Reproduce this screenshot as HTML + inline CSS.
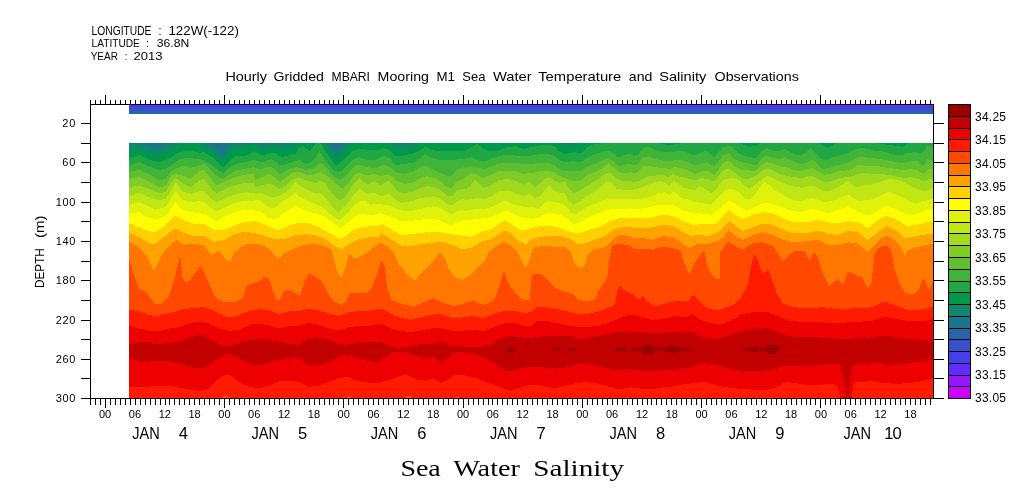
<!DOCTYPE html>
<html><head><meta charset="utf-8"><title>Sea Water Salinity</title>
<style>html,body{margin:0;padding:0;background:#fff}svg{display:block}text{font-family:"Liberation Sans",sans-serif;fill:#000}.s{font-family:"Liberation Serif",serif}</style></head><body>
<svg width="1009" height="504" viewBox="0 0 1009 504">
<rect width="1009" height="504" fill="#fff"/>
<g shape-rendering="crispEdges">
<rect x="129" y="105" width="804" height="1" fill="#622aff"/>
<rect x="129" y="106" width="804" height="2.4" fill="#443eec"/>
<rect x="129" y="108.4" width="804" height="2.7" fill="#3750cc"/>
<rect x="129" y="111.1" width="804" height="2.9" fill="#2962ac"/>
<rect x="757" y="105" width="120" height="2" fill="#9318ff"/>
<rect x="876" y="105" width="57" height="1" fill="#7724ff"/>
<rect x="555" y="105" width="135" height="1" fill="#7724ff"/>
<rect x="740" y="106" width="193" height="3.2" fill="#443eec"/>
<rect x="760" y="109.2" width="110" height="3.2" fill="#3750cc"/>
</g>
<defs><clipPath id="cp"><rect x="129" y="143" width="804" height="255"/></clipPath></defs>
<g clip-path="url(#cp)" shape-rendering="crispEdges">
<rect x="129" y="143" width="804" height="255" fill="#1b758c"/>
<polygon fill="#0e876c" points="129.0,144.8 139.0,141.5 149.0,146.5 157.3,148.2 167.3,144.0 177.3,139.0 184.0,134.2 199.0,134.2 202.3,140.7 212.3,145.7 219.0,151.5 223.2,154.5 227.3,148.2 232.3,141.5 242.3,141.5 252.3,138.2 255.0,137.3 260.0,140.7 265.0,144.0 270.0,140.7 274.2,139.0 278.3,141.1 283.3,144.0 288.3,141.5 291.7,140.7 295.8,140.2 296.7,130.0 321.7,130.0 324.2,137.3 327.5,141.5 330.8,145.7 335.0,151.1 338.3,150.2 342.0,146.5 347.0,139.8 350.3,134.2 352.3,129.0 388.3,129.0 390.3,134.2 393.7,139.8 397.0,141.5 407.0,140.7 413.7,139.8 418.7,134.2 420.7,129.0 484.7,129.0 486.7,134.2 491.7,137.8 497.5,134.2 499.5,129.0 556.3,129.0 558.3,134.2 563.3,138.5 571.7,139.0 580.0,137.8 583.3,134.2 585.3,129.0 932.0,129.0 933.0,129.0 935,400 127,400"/>
<polygon fill="#00994c" points="129.0,151.3 139.0,148.0 149.0,153.0 157.3,154.7 167.3,150.5 177.3,145.5 184.0,142.2 199.0,142.2 202.3,147.2 212.3,152.2 219.0,158.0 223.2,161.0 227.3,154.7 232.3,148.0 242.3,148.0 252.3,144.7 255.0,143.8 260.0,147.2 265.0,150.5 270.0,147.2 274.2,145.5 278.3,147.6 283.3,150.5 288.3,148.0 291.7,147.2 295.8,146.8 296.7,138.0 321.7,138.0 324.2,143.8 327.5,148.0 330.8,152.2 335.0,157.6 338.3,156.8 342.0,153.0 347.0,146.3 350.3,142.2 352.3,137.0 388.3,137.0 390.3,142.2 393.7,146.3 397.0,148.0 407.0,147.2 413.7,146.3 418.7,142.2 420.7,137.0 484.7,137.0 486.7,142.2 491.7,144.3 497.5,142.2 499.5,137.0 556.3,137.0 558.3,142.2 563.3,145.0 571.7,145.5 580.0,144.3 583.3,142.2 585.3,137.0 932.0,137.0 933.0,137.0 935,400 127,400"/>
<polygon fill="#20a643" points="129.0,158.8 139.0,154.7 149.0,159.7 159.0,162.2 169.0,158.8 177.3,153.0 184.0,151.3 192.3,150.5 199.0,153.0 204.0,152.2 212.3,157.2 219.0,163.8 223.2,167.2 229.0,161.3 235.7,156.3 245.7,155.5 252.3,152.2 255.0,151.3 259.2,153.8 264.2,155.9 267.5,153.8 271.7,152.6 275.8,153.4 279.2,156.3 283.3,156.8 288.3,155.5 292.5,154.2 295.8,153.8 297.5,150.5 300.0,146.8 303.3,146.3 306.7,148.8 309.2,150.9 312.5,148.0 315.0,144.2 316.7,142.2 320.8,142.2 321.7,144.7 325.0,150.5 328.3,155.5 331.7,160.5 335.8,165.5 338.3,164.2 342.0,161.3 347.0,156.3 352.0,151.3 358.7,148.8 367.0,149.7 375.3,150.5 383.7,148.0 390.3,150.5 395.3,156.3 403.7,155.5 413.7,153.0 420.3,150.5 425.3,146.3 430.3,149.7 438.7,151.3 447.0,151.0 455.3,150.5 463.7,150.5 465.0,150.5 473.3,146.3 476.7,143.8 481.7,147.2 488.3,150.5 498.3,150.5 506.7,147.2 515.0,146.3 523.3,148.8 531.7,147.2 540.0,145.5 548.3,144.7 555.0,146.3 558.3,150.5 565.0,153.8 573.3,152.2 581.7,153.0 586.7,148.0 591.7,144.7 598.3,143.8 606.7,143.0 611.7,142.2 613.7,137.0 656.0,137.0 658.0,142.2 663.0,144.3 671.3,145.0 678.0,143.8 681.3,142.2 683.3,137.0 736.0,137.0 738.0,142.2 743.0,144.7 749.7,146.7 756.3,145.5 761.3,142.2 763.3,137.0 815.7,137.0 817.7,142.2 822.7,145.5 827.7,147.7 832.7,145.5 836.8,142.2 838.8,137.0 870.7,137.0 872.7,142.2 881.0,144.3 889.3,144.7 897.7,146.0 902.7,146.7 907.7,143.8 910.2,142.2 933.0,142.2 935,400 127,400"/>
<polygon fill="#40b339" points="129.0,165.5 139.0,162.2 149.0,166.3 159.0,170.5 167.3,168.0 174.0,163.0 180.7,158.8 187.3,158.0 195.7,158.8 202.3,159.7 212.3,165.5 219.0,170.5 223.2,173.0 229.0,168.0 235.7,163.8 245.7,162.2 254.0,159.7 255.0,160.1 260.0,161.8 264.2,161.8 267.5,160.1 271.7,159.2 275.8,161.8 279.2,164.7 283.3,165.1 288.3,163.4 292.5,162.2 296.7,160.5 299.6,159.2 301.7,161.8 305.0,163.8 309.2,163.0 313.3,160.5 316.7,155.5 319.6,151.3 322.5,155.5 325.8,160.9 330.0,166.3 334.2,170.9 338.3,171.8 342.0,170.5 347.0,165.5 353.7,158.8 358.7,157.2 367.0,159.7 375.3,159.7 383.7,155.5 390.3,158.8 395.3,165.5 403.7,163.8 413.7,163.0 420.3,158.0 424.5,153.8 430.3,157.2 438.7,159.7 447.0,160.5 455.3,159.7 463.7,158.8 465.0,158.8 471.7,157.2 478.3,160.5 485.0,161.3 491.7,158.8 498.3,156.3 506.7,154.7 515.0,155.5 523.3,156.3 531.7,155.5 540.0,153.8 548.3,153.8 555.0,156.3 560.0,160.5 565.0,162.2 573.3,161.3 581.7,162.2 586.7,158.0 593.3,154.7 601.7,152.2 608.3,150.5 613.3,153.0 618.3,157.2 625.0,154.7 631.7,153.8 633.0,156.3 638.0,154.7 643.0,148.0 648.0,146.3 654.7,149.7 663.0,152.2 673.0,152.2 681.3,150.5 688.0,153.0 694.7,155.5 699.7,153.0 706.3,150.5 711.3,154.7 714.7,157.2 718.0,152.2 723.0,147.2 729.7,145.5 734.7,149.7 741.3,154.7 749.7,157.2 756.3,158.0 761.3,151.3 766.3,148.0 773.0,150.5 779.7,150.5 784.7,148.8 791.3,153.0 799.7,155.5 801.0,155.5 806.0,152.2 811.0,148.0 816.0,153.8 821.0,158.8 826.0,160.5 832.7,157.2 839.3,155.5 847.7,153.0 854.3,149.7 861.0,148.0 867.7,148.8 874.3,150.5 882.7,151.3 891.0,153.8 901.0,155.5 907.7,153.0 914.3,152.2 921.0,153.0 924.3,150.5 927.7,145.5 933.0,148.0 935,400 127,400"/>
<polygon fill="#60bf30" points="129.0,172.2 139.0,169.7 149.0,173.8 159.0,180.5 165.7,178.8 170.7,171.3 177.3,168.0 184.0,165.5 190.7,168.0 199.0,165.5 204.0,163.8 212.3,172.2 219.0,177.2 223.2,178.8 229.0,174.7 235.7,170.5 245.7,168.8 254.0,167.2 255.0,168.0 259.2,168.8 263.3,169.2 266.7,167.2 270.8,166.3 275.0,169.7 279.2,173.8 280.8,174.2 284.2,171.8 288.3,169.7 292.5,167.6 296.7,167.2 300.8,168.0 305.0,170.1 309.2,169.2 313.3,168.8 316.7,166.3 320.0,163.0 323.3,164.2 326.7,168.0 330.0,172.2 334.2,176.3 338.3,179.7 342.0,178.8 347.0,174.7 353.7,166.3 358.7,164.7 367.0,167.2 375.3,168.0 383.7,164.7 390.3,167.2 395.3,172.2 403.7,173.8 413.7,171.3 420.3,167.2 425.3,165.5 430.3,168.0 438.7,172.2 447.0,175.5 452.0,175.5 457.0,169.7 463.7,167.2 465.0,168.0 471.7,166.3 478.3,168.0 485.0,168.8 491.7,166.3 498.3,163.8 506.7,163.0 515.0,163.0 523.3,163.8 531.7,163.8 540.0,163.0 548.3,163.0 555.0,165.5 560.0,169.7 566.7,171.3 575.0,171.3 581.7,170.5 588.3,166.3 595.0,163.8 601.7,160.5 608.3,158.0 613.3,161.3 618.3,166.3 625.0,164.7 631.7,163.8 633.0,165.5 638.0,163.8 643.0,157.2 648.0,156.3 654.7,158.8 663.0,160.5 673.0,160.5 681.3,159.7 688.0,162.2 694.7,165.5 699.7,163.8 706.3,162.2 711.3,164.7 714.7,166.3 718.0,162.2 723.0,155.5 728.8,153.0 734.7,158.8 741.3,162.2 749.7,163.8 756.3,165.5 761.3,158.8 766.3,155.5 773.0,158.0 779.7,158.8 784.7,157.2 791.3,160.5 799.7,163.8 801.0,164.7 807.7,162.2 812.7,159.7 817.7,164.7 822.7,168.8 829.3,168.0 836.0,165.5 844.3,163.8 851.0,161.3 857.7,157.2 864.3,157.2 871.0,158.0 879.3,158.8 887.7,160.5 896.0,162.2 904.3,163.0 911.0,161.3 917.7,161.3 923.5,166.3 927.7,158.8 933.0,161.3 935,400 127,400"/>
<polygon fill="#80cc26" points="129.0,178.8 139.0,177.2 149.0,181.3 159.0,187.2 165.7,186.3 170.7,176.3 175.7,173.8 182.3,175.5 190.7,178.8 199.0,171.3 204.0,169.7 212.3,180.5 216.5,185.5 222.3,183.0 229.0,179.7 237.3,176.3 245.7,174.7 254.0,173.8 255.0,179.7 260.0,178.0 265.0,175.9 270.0,174.2 274.2,176.8 278.3,180.5 280.8,182.2 284.2,178.8 288.3,175.9 292.5,172.6 296.7,171.8 300.8,172.2 305.0,174.7 309.2,175.5 313.3,174.7 316.7,173.4 320.0,172.2 324.2,173.8 327.5,176.3 331.7,179.7 335.0,183.0 338.3,185.0 342.0,188.8 347.0,184.7 353.7,175.5 358.7,172.2 367.0,175.5 373.7,173.8 380.3,176.3 387.0,174.7 392.0,176.3 397.0,181.3 405.3,183.8 413.7,182.2 420.3,178.0 427.0,176.3 433.7,178.0 440.3,181.3 447.0,187.2 452.0,188.0 457.0,181.3 463.7,178.8 465.0,177.2 471.7,173.0 476.7,174.7 483.3,178.0 490.0,175.5 498.3,171.3 506.7,170.5 515.0,171.3 523.3,173.8 531.7,173.0 540.0,171.3 548.3,170.5 555.0,173.0 560.0,176.3 566.7,178.8 573.3,180.5 580.0,180.5 586.7,175.5 595.0,172.2 601.7,168.8 608.3,163.0 613.3,167.2 618.3,172.2 625.0,173.0 631.7,172.2 633.0,173.0 638.0,172.2 643.0,166.3 648.0,165.5 654.7,167.2 663.0,168.0 669.7,168.8 674.7,167.2 681.3,168.0 688.0,170.5 694.7,173.8 699.7,172.2 706.3,170.5 711.3,173.0 714.7,174.7 718.0,170.5 723.0,163.0 728.8,160.5 734.7,166.3 741.3,169.7 749.7,170.5 756.3,170.5 761.3,165.5 766.3,162.2 773.0,163.8 779.7,166.3 786.3,167.2 793.0,169.7 799.7,171.3 801.0,171.3 807.7,168.8 812.7,168.0 817.7,171.3 824.3,174.7 831.0,173.8 837.7,171.3 846.0,170.5 852.7,168.8 858.5,164.7 864.3,165.5 871.0,166.3 879.3,166.3 887.7,168.0 896.0,168.8 904.3,170.5 911.0,168.8 917.7,170.5 923.5,173.8 928.5,168.8 933.0,169.7 935,400 127,400"/>
<polygon fill="#a0d91d" points="129.0,187.2 139.0,185.5 149.0,188.8 159.0,193.0 165.7,192.2 170.7,183.0 175.7,178.0 182.3,183.0 190.7,187.2 199.0,180.5 204.0,178.8 212.3,189.7 216.5,193.0 222.3,190.5 229.0,187.2 237.3,184.7 245.7,183.0 254.0,183.0 255.0,187.1 260.0,185.8 265.8,184.2 270.0,183.3 275.0,186.2 279.2,188.8 283.3,187.5 288.3,183.3 291.7,180.0 296.7,177.5 301.7,178.8 306.7,180.4 313.3,182.3 315.8,183.3 319.2,181.5 321.7,181.2 325.0,182.9 328.3,188.3 333.3,195.0 338.3,200.0 340.3,200.5 347.0,194.7 353.7,183.8 359.5,178.0 367.0,184.7 374.5,181.3 380.3,185.5 388.7,180.5 393.7,186.3 398.7,192.2 405.3,193.0 413.7,191.3 420.3,188.0 427.0,186.3 433.7,187.2 440.3,189.7 447.0,195.5 452.0,196.3 457.0,190.5 463.7,188.8 465.0,189.7 470.0,186.3 475.0,179.7 480.0,184.7 484.2,188.0 490.0,185.5 498.3,180.5 506.7,178.8 515.0,180.5 523.3,184.7 529.2,182.2 535.0,187.2 540.0,183.0 545.0,178.8 550.0,177.2 555.0,181.3 560.0,183.0 565.0,181.3 568.3,188.0 573.3,193.0 578.3,191.3 585.0,187.2 591.7,183.0 598.3,178.8 605.0,173.8 610.0,172.2 615.0,178.0 621.7,180.5 631.7,180.5 633.0,182.2 639.7,180.5 644.7,178.0 649.7,175.5 656.3,175.5 663.0,174.7 668.8,177.2 673.0,173.8 678.0,176.3 683.0,177.2 689.7,178.8 696.3,180.5 701.3,178.0 706.3,178.8 713.0,181.3 716.3,179.7 721.3,172.2 726.3,168.8 731.3,169.7 736.3,173.8 743.0,178.8 749.7,178.8 756.3,175.5 763.0,170.5 768.0,168.8 774.7,171.3 781.3,174.7 788.0,176.3 794.7,177.2 799.7,178.0 801.0,178.8 807.7,176.3 812.7,175.5 817.7,178.8 824.3,182.2 831.0,181.3 837.7,178.8 846.0,177.2 852.7,176.3 858.5,173.8 864.3,173.0 871.0,173.8 879.3,173.8 887.7,174.7 896.0,176.3 904.3,178.0 911.0,177.2 917.7,178.8 924.3,181.3 929.3,178.8 933.0,178.8 935,400 127,400"/>
<polygon fill="#c0e613" points="129.0,196.3 139.0,193.0 149.0,197.2 159.0,200.5 165.7,198.8 170.7,191.3 175.7,182.2 182.3,191.3 190.7,193.8 199.0,191.3 204.0,191.3 212.3,199.7 216.5,202.2 222.3,199.7 229.0,196.3 237.3,193.8 245.7,192.2 254.0,193.0 255.0,193.8 260.0,193.3 265.8,195.0 270.0,196.7 275.0,196.7 280.0,195.8 285.0,192.5 290.0,188.3 293.3,184.2 295.4,182.1 298.3,184.6 303.3,187.9 308.3,190.4 313.3,192.5 316.7,193.8 319.2,192.9 321.7,194.2 325.0,197.5 328.3,201.7 333.3,208.3 338.3,213.3 340.3,209.7 347.0,204.7 353.7,194.7 359.5,188.8 367.0,193.8 375.3,193.0 382.0,196.3 388.7,193.0 393.7,198.0 400.3,203.0 407.0,202.2 413.7,200.5 420.3,198.0 427.0,197.2 433.7,196.3 440.3,198.8 447.0,203.8 452.0,205.5 457.0,201.3 463.7,198.8 465.0,200.5 471.7,198.8 478.3,198.0 485.0,198.8 491.7,196.3 500.0,190.5 508.3,190.5 515.0,193.0 523.3,196.3 529.2,193.8 535.0,198.0 540.0,196.3 545.0,189.7 549.2,185.5 553.3,190.5 560.0,193.0 565.0,193.0 568.3,200.5 573.3,204.7 580.0,201.3 586.7,196.3 593.3,192.2 600.0,187.2 606.7,181.3 611.7,183.0 616.7,188.8 623.3,189.7 631.7,189.7 633.0,189.7 639.7,188.0 646.3,185.5 653.0,183.0 659.7,181.3 664.7,182.2 668.8,185.5 673.8,180.5 678.0,183.8 683.0,187.2 689.7,188.8 694.7,190.5 699.7,186.3 704.7,188.8 711.3,193.0 716.3,189.7 721.3,181.3 726.3,178.8 733.0,178.0 739.7,180.5 744.7,186.3 749.7,188.8 756.3,183.8 763.0,178.8 768.0,175.5 774.7,178.8 781.3,182.2 788.0,184.7 794.7,186.7 799.7,187.2 801.0,188.0 807.7,186.3 812.7,185.5 817.7,188.0 824.3,191.3 831.0,190.5 837.7,187.2 844.3,183.0 848.5,181.0 852.7,185.5 856.0,187.2 862.7,185.5 871.0,184.7 879.3,182.2 886.0,179.7 892.7,178.8 899.3,180.5 906.0,183.0 912.7,187.2 919.3,189.7 924.3,191.3 929.3,189.7 933.0,188.8 935,400 127,400"/>
<polygon fill="#e0f209" points="129.0,204.7 139.0,202.2 149.0,206.3 155.7,209.7 165.7,207.2 170.7,199.7 175.7,190.5 182.3,199.7 190.7,202.2 199.0,201.3 204.0,202.2 212.3,208.8 216.5,211.3 222.3,208.8 229.0,205.5 237.3,202.2 245.7,200.5 254.0,201.3 255.0,199.6 260.0,200.4 263.3,203.3 268.3,207.1 274.2,208.3 278.3,205.8 281.7,201.7 286.7,199.2 291.7,196.2 295.4,192.9 298.3,195.8 303.3,198.8 308.3,201.2 313.3,203.3 318.3,205.0 321.7,206.7 325.0,209.2 328.3,212.5 333.3,216.7 338.3,220.0 340.3,219.7 347.0,213.8 353.7,205.5 359.5,201.3 364.5,200.5 370.3,204.7 377.0,203.8 383.7,204.7 390.3,205.5 397.0,208.8 403.7,211.3 413.7,210.5 420.3,208.8 427.0,207.2 433.7,206.3 440.3,208.0 447.0,212.2 452.0,214.7 457.0,211.3 463.7,209.7 465.0,211.3 471.7,209.7 478.3,208.8 485.0,208.8 491.7,207.2 500.0,203.0 505.0,200.5 511.7,203.8 518.3,205.5 526.7,207.2 533.3,207.2 538.3,208.8 543.3,203.8 548.3,201.3 555.0,202.2 561.7,203.8 566.7,207.2 571.7,213.0 575.0,214.7 581.7,210.5 588.3,206.3 595.0,203.8 601.7,200.5 608.3,198.8 615.0,198.8 623.3,198.8 631.7,198.8 633.0,199.7 639.7,198.8 646.3,198.0 653.0,195.5 659.7,193.0 664.7,192.2 668.8,195.5 673.8,191.3 678.0,194.7 683.0,198.8 689.7,199.7 694.7,202.2 703.0,203.0 711.3,204.7 716.3,199.7 721.3,193.8 726.3,189.7 733.0,188.8 739.7,193.0 744.7,198.8 749.7,199.7 756.3,193.0 761.3,185.5 764.7,182.2 769.7,185.5 776.3,191.3 783.0,194.7 789.7,198.8 796.3,200.5 799.7,201.0 801.0,201.3 807.7,198.8 812.7,198.0 817.7,199.7 824.3,202.2 831.0,201.3 837.7,198.8 844.3,196.3 848.5,194.7 852.7,198.0 857.7,200.5 864.3,200.5 871.0,199.7 879.3,196.3 886.0,193.0 889.3,191.7 896.0,194.7 902.7,198.0 909.3,201.3 916.0,203.8 922.7,201.3 929.3,199.7 933.0,198.8 935,400 127,400"/>
<polygon fill="#fffe00" points="129.0,213.8 139.0,212.2 145.7,216.3 155.7,219.7 165.7,216.3 170.7,209.7 175.7,202.2 182.3,209.7 190.7,212.2 199.0,213.0 205.7,214.7 212.3,218.8 216.5,221.3 222.3,218.0 229.0,214.7 237.3,211.3 245.7,209.7 254.0,210.5 255.0,210.8 260.0,211.2 263.3,214.2 268.3,217.5 273.3,219.0 278.3,217.9 281.7,214.2 286.7,211.2 291.7,208.3 295.4,205.0 298.3,207.5 303.3,209.6 308.3,211.2 313.3,212.9 318.3,214.2 321.7,215.4 325.0,217.1 328.3,219.6 331.7,221.7 338.3,226.7 340.3,228.0 347.0,223.0 353.7,217.2 360.3,213.8 367.0,214.7 373.7,214.7 380.3,213.0 387.0,215.5 393.7,218.0 400.3,221.3 407.0,221.3 413.7,220.5 420.3,219.7 427.0,218.8 433.7,218.8 440.3,220.5 447.0,223.8 452.0,225.5 457.0,222.2 463.7,219.7 465.0,220.5 471.7,219.7 478.3,218.8 485.0,218.0 491.7,217.2 498.3,213.8 505.0,210.5 511.7,213.0 518.3,216.3 525.0,218.0 531.7,218.8 538.3,218.0 543.3,214.7 548.3,213.0 555.0,213.8 561.7,215.5 566.7,218.8 571.7,223.0 575.0,224.7 581.7,221.3 588.3,218.0 595.0,214.7 601.7,212.2 608.3,209.7 615.0,208.8 623.3,208.8 631.7,208.3 633.0,208.8 639.7,208.8 646.3,208.0 653.0,206.3 659.7,204.7 666.3,204.7 673.0,205.5 678.0,207.2 683.0,210.5 689.7,212.2 696.3,213.0 703.0,213.8 711.3,214.7 716.3,211.3 723.0,205.5 729.7,200.5 734.7,203.8 741.3,208.0 748.0,210.5 754.7,207.2 761.3,203.8 768.0,203.0 774.7,204.7 781.3,207.2 788.0,209.7 794.7,211.3 799.7,212.2 801.0,212.2 807.7,209.7 814.3,208.8 821.0,211.3 827.7,213.0 834.3,211.3 841.0,208.8 847.7,207.2 854.3,209.7 861.0,213.0 867.7,215.5 874.3,213.0 881.0,208.8 886.8,205.5 892.7,208.0 899.3,211.3 906.0,213.8 912.7,215.5 919.3,213.0 926.0,210.5 933.0,208.8 935,400 127,400"/>
<polygon fill="#ffd100" points="129.0,223.0 139.0,227.2 149.0,231.0 154.0,232.5 164.0,226.0 175.2,215.5 184.0,220.5 194.0,224.0 204.0,223.5 214.0,230.5 224.0,229.8 234.0,225.5 244.0,222.2 254.0,221.0 264.0,224.0 274.0,229.2 279.0,230.0 289.0,225.5 299.0,222.5 309.0,223.5 319.0,226.8 329.0,233.0 340.2,239.2 346.5,235.5 354.0,229.2 364.0,226.8 379.0,225.5 381.0,224.2 391.0,229.2 401.0,235.0 411.0,234.2 421.0,233.0 431.0,231.8 441.0,232.5 451.0,234.2 461.0,235.5 471.0,236.8 481.0,231.8 491.0,229.2 498.5,224.2 504.8,220.5 511.0,224.2 521.0,230.5 528.5,229.2 536.0,226.8 546.0,225.5 556.0,226.8 566.0,230.5 574.8,233.5 581.0,232.5 591.0,229.2 601.0,226.8 611.0,220.5 621.0,218.0 631.0,217.5 633.0,218.0 643.0,218.5 653.0,217.2 663.0,214.8 673.0,216.0 683.0,221.0 693.0,224.8 705.5,224.0 715.5,223.5 723.0,216.0 729.2,209.8 735.5,214.8 743.0,219.0 753.0,214.8 763.0,212.2 773.0,213.5 783.0,218.5 793.0,222.2 808.0,222.2 818.0,219.8 828.0,222.2 838.0,223.5 848.0,221.0 858.0,222.2 868.0,228.0 873.0,223.5 883.0,217.2 887.0,216.0 897.0,219.8 907.0,226.0 917.0,224.8 927.0,222.2 933.0,221.5 935,400 127,400"/>
<polygon fill="#ffa300" points="129.0,232.5 139.0,236.8 149.0,243.0 154.0,244.2 164.0,236.8 175.2,228.0 184.0,233.0 194.0,236.0 204.0,235.5 214.0,241.8 224.0,240.0 234.0,234.2 244.0,231.8 254.0,233.0 264.0,235.5 274.0,239.2 284.0,239.2 294.0,235.5 304.0,234.2 314.0,235.0 324.0,238.0 334.0,245.5 341.5,249.2 349.0,244.2 359.0,239.2 369.0,237.5 379.0,236.8 381.0,233.0 391.0,239.2 401.0,245.5 411.0,246.0 421.0,244.2 431.0,243.0 441.0,241.8 451.0,244.2 461.0,249.2 471.0,248.0 481.0,241.8 491.0,239.2 498.5,234.2 504.8,230.5 511.0,233.5 519.8,241.8 526.0,244.2 531.0,239.2 541.0,236.8 551.0,236.0 561.0,236.0 571.0,239.2 578.5,244.2 586.0,243.0 596.0,239.2 606.0,235.5 613.5,229.2 621.0,227.5 631.0,226.8 633.0,228.0 643.0,228.5 653.0,227.2 663.0,224.8 673.0,226.0 683.0,232.2 690.5,236.0 698.0,234.8 708.0,236.0 718.0,232.2 723.0,227.2 729.2,221.0 735.5,226.0 743.0,231.0 753.0,227.2 763.0,223.5 773.0,224.8 783.0,229.8 793.0,233.5 808.0,233.0 818.0,230.5 828.0,234.0 838.0,234.8 848.0,231.0 858.0,232.2 868.0,240.5 873.0,236.0 883.0,228.5 887.0,226.0 897.0,231.0 904.5,238.5 912.0,237.2 922.0,234.8 933.0,233.5 935,400 127,400"/>
<polygon fill="#ff7600" points="129.0,242.2 139.0,247.2 146.5,256.0 154.0,271.5 161.5,256.0 166.5,248.5 176.5,239.8 184.0,244.8 194.0,243.5 204.0,245.5 211.5,254.8 215.2,253.5 219.0,250.5 225.2,258.5 230.2,262.2 234.0,252.2 244.0,244.8 254.0,243.5 264.0,246.0 271.5,251.0 277.8,259.0 284.0,253.5 294.0,248.5 304.0,244.8 314.0,244.0 324.0,246.0 331.5,249.8 336.5,268.5 341.0,278.5 345.2,268.5 349.0,253.5 354.0,259.0 364.0,254.8 374.0,247.2 379.0,243.5 381.0,243.0 388.5,247.2 393.5,252.2 398.5,263.5 406.0,273.5 414.8,280.5 421.0,273.5 431.0,263.5 439.8,252.5 444.8,258.0 448.5,268.5 454.8,277.2 462.2,279.8 471.0,274.8 479.8,266.0 486.0,259.8 488.5,252.2 493.5,248.5 503.5,241.8 511.0,245.5 517.2,251.0 521.0,259.8 526.0,268.5 529.8,259.8 532.2,250.5 536.0,246.8 546.0,246.0 556.0,246.8 566.0,247.5 571.0,252.2 574.8,263.5 581.0,268.5 584.8,264.8 587.2,254.8 593.5,249.2 603.5,248.0 611.0,241.8 616.0,236.8 621.0,235.0 631.0,236.0 633.0,238.5 643.0,238.0 653.0,239.8 663.0,236.0 673.0,237.2 683.0,243.5 689.2,248.0 698.0,243.5 708.0,243.5 718.0,241.0 723.0,237.2 729.2,230.5 735.5,236.0 743.0,239.8 753.0,234.8 763.0,232.2 773.0,234.8 783.0,239.8 793.0,242.2 808.0,241.0 818.0,239.8 828.0,244.8 838.0,244.8 848.0,242.2 858.0,243.5 868.0,252.2 873.0,246.0 883.0,237.2 887.0,235.5 894.5,239.8 902.0,248.5 904.5,256.0 907.0,251.0 912.0,248.5 922.0,246.0 933.0,243.5 935,400 127,400"/>
<polygon fill="#ff4900" points="129.0,258.5 134.0,276.0 139.0,288.5 146.5,292.2 154.0,303.5 161.5,303.5 169.0,296.0 174.0,281.0 177.8,266.0 180.2,254.8 182.0,276.0 185.2,282.2 190.2,281.0 196.5,271.0 200.2,265.5 204.0,272.2 209.0,283.5 215.2,297.2 224.0,302.2 234.0,302.2 242.8,298.5 246.5,286.0 254.0,283.0 261.5,279.8 266.0,276.8 269.0,279.8 272.8,291.0 276.5,299.8 279.0,300.5 282.8,293.5 285.2,289.8 289.0,289.8 294.0,292.2 299.8,296.0 304.0,283.5 308.5,273.5 314.0,276.0 321.5,281.0 329.0,294.8 334.0,302.2 341.5,304.8 346.5,301.0 349.0,293.0 359.0,293.0 366.5,293.5 372.8,286.0 379.0,268.5 381.0,259.8 384.8,266.0 387.2,288.5 391.0,299.8 401.0,303.5 413.5,306.8 423.5,302.2 433.5,298.0 441.0,302.2 453.5,306.0 463.5,303.5 473.5,301.0 483.5,304.8 493.5,300.5 497.2,293.5 501.0,281.0 504.0,269.8 506.0,278.5 509.8,286.0 516.0,293.5 523.5,300.5 529.8,299.8 531.8,276.0 534.8,273.5 541.0,274.0 546.0,278.5 556.0,288.5 566.0,292.2 573.5,294.8 578.5,299.8 586.0,301.5 594.8,299.8 598.5,291.0 603.5,283.5 607.2,278.5 609.8,256.0 612.2,246.0 618.5,243.5 626.0,244.8 631.0,246.0 633.0,249.0 643.0,248.5 653.0,249.8 663.0,246.5 673.0,248.5 680.5,251.0 684.2,263.5 689.2,274.8 694.2,263.5 700.5,254.8 704.2,249.8 706.8,264.8 710.5,273.5 716.8,279.0 719.8,278.5 720.5,252.2 728.0,241.5 735.5,246.0 743.0,249.8 753.0,243.0 763.0,242.2 773.0,246.0 778.0,253.5 783.0,261.5 788.0,256.0 795.5,250.5 804.2,250.5 809.2,260.5 814.2,252.2 818.0,257.2 821.8,271.0 829.2,286.5 833.0,282.2 838.0,279.2 843.0,284.8 848.0,271.5 855.5,274.8 861.8,277.2 868.0,288.5 871.8,281.0 874.2,256.0 878.0,248.5 883.0,246.0 887.0,245.5 890.8,249.8 894.5,268.5 899.5,283.5 904.5,292.2 912.0,294.8 918.2,291.0 922.0,281.0 924.0,278.5 927.0,286.0 929.5,289.8 933.0,281.0 935,400 127,400"/>
<polygon fill="#ff1b00" points="129.0,309.8 139.0,311.0 149.0,314.8 156.5,316.5 164.0,314.0 174.0,312.2 184.0,309.0 194.0,308.0 204.0,307.2 214.0,311.0 224.0,316.0 231.5,317.2 239.0,314.8 249.0,311.0 259.0,309.0 269.0,310.5 279.0,314.0 289.0,311.5 299.0,311.0 309.0,308.5 319.0,310.5 329.0,313.5 339.0,316.0 349.0,312.2 359.0,311.0 369.0,311.0 379.0,308.5 381.0,308.5 391.0,313.5 401.0,318.0 411.0,319.8 421.0,317.2 431.0,314.8 441.0,314.0 453.5,318.5 463.5,317.2 473.5,316.0 483.5,318.0 493.5,314.0 503.5,311.0 513.5,310.5 523.5,313.0 531.0,312.2 536.0,307.2 546.0,307.2 556.0,309.0 566.0,311.0 576.0,313.5 586.0,314.0 596.0,312.2 606.0,308.5 614.8,304.8 617.2,292.2 619.8,285.5 623.5,289.8 631.0,293.5 633.0,293.5 638.0,299.8 643.0,295.5 648.0,302.2 655.5,306.5 665.5,303.5 678.0,300.5 688.0,302.2 693.0,294.0 698.0,299.8 705.5,307.2 718.0,310.5 733.0,304.8 740.5,298.5 748.0,283.5 751.8,263.5 754.2,254.0 758.0,261.0 763.0,274.8 768.0,269.0 771.8,278.5 776.8,293.5 783.0,303.5 793.0,307.2 808.0,308.5 823.0,307.2 833.0,308.5 843.0,309.8 853.0,308.0 863.0,308.0 873.0,307.2 883.0,302.2 887.0,302.2 897.0,306.0 907.0,309.8 917.0,310.5 927.0,308.5 933.0,306.0 935,400 127,400"/>
<polygon fill="#ee0000" points="129.0,326.0 139.0,328.5 149.0,330.5 159.0,331.0 169.0,328.5 179.0,327.2 189.0,323.5 199.0,321.5 209.0,323.5 219.0,328.5 229.0,331.0 239.0,329.8 249.0,324.8 259.0,323.5 269.0,325.5 279.0,328.5 289.0,326.0 299.0,325.5 309.0,323.0 319.0,324.8 329.0,328.5 339.0,330.5 349.0,327.2 359.0,326.0 369.0,326.0 379.0,323.5 381.0,323.5 391.0,328.5 401.0,331.0 411.0,332.0 421.0,330.5 431.0,328.5 441.0,328.0 453.5,331.0 463.5,330.5 473.5,329.8 483.5,331.0 493.5,327.2 503.5,323.5 513.5,323.0 523.5,325.5 531.0,325.5 536.0,321.5 546.0,321.0 556.0,323.0 566.0,324.8 576.0,326.5 586.0,327.2 596.0,326.0 606.0,323.5 616.0,319.8 623.5,316.0 631.0,314.8 633.0,314.8 643.0,317.2 653.0,320.5 663.0,318.5 675.5,316.0 685.5,317.2 693.0,314.2 700.5,319.8 710.5,323.0 720.5,324.8 733.0,319.8 743.0,314.0 753.0,312.2 768.0,312.2 778.0,316.0 788.0,320.5 803.0,322.2 818.0,321.5 833.0,323.5 843.0,323.0 853.0,321.5 863.0,321.5 873.0,320.5 883.0,317.2 887.0,317.2 897.0,319.0 907.0,321.0 917.0,321.5 927.0,320.5 933.0,318.5 935,400 127,400"/>
<polygon fill="#c30000" points="129.0,344.5 139.0,342.0 149.0,342.0 159.0,344.0 169.0,343.2 179.0,342.0 189.0,337.5 200.2,335.0 209.0,338.2 219.0,344.5 227.8,346.5 234.0,344.5 244.0,341.5 254.0,339.0 261.5,338.2 269.0,340.0 279.0,342.0 289.0,343.2 299.0,345.0 304.0,340.8 309.0,338.8 319.0,338.2 329.0,340.0 339.0,344.0 346.5,345.0 354.0,343.2 364.0,342.5 374.0,341.5 379.0,341.5 381.0,341.5 391.0,347.0 401.0,348.2 411.0,346.5 421.0,344.0 431.0,344.5 441.0,341.5 451.0,345.8 461.0,347.0 471.0,347.0 481.0,347.0 491.0,344.5 501.0,338.2 511.0,335.8 521.0,337.5 531.0,338.2 541.0,336.5 551.0,335.8 561.0,336.5 571.0,335.8 581.0,339.0 588.5,337.5 598.5,335.8 611.0,333.2 621.0,331.5 631.0,332.0 633.0,331.5 643.0,331.5 653.0,333.2 663.0,332.5 673.0,332.0 683.0,332.5 693.0,332.0 703.0,337.5 718.0,339.0 728.0,335.8 738.0,332.5 748.0,330.0 758.0,329.0 768.0,328.2 778.0,332.0 788.0,335.8 798.0,337.5 813.0,337.0 828.0,338.2 843.0,339.0 858.0,338.2 870.5,337.5 883.0,335.8 887.0,335.8 897.0,337.5 907.0,339.0 917.0,339.5 927.0,339.5 933.0,338.2 935,400 127,400"/>
<polygon fill="#990000" points="506.1,349.8 508.4,346.9 512.9,346.9 515.1,349.8 512.9,352.7 508.4,352.7"/>
<rect fill="#990000" x="552.0" y="348.1" width="7.7" height="2.8"/>
<rect fill="#990000" x="567.0" y="348.1" width="8.0" height="2.8"/>
<rect fill="#990000" x="614.5" y="348.1" width="12.9" height="2.8"/>
<rect fill="#990000" x="630.5" y="348.1" width="62.5" height="2.8"/>
<polygon fill="#990000" points="639.5,349.5 643.8,345.3 652.2,345.3 656.5,349.5 652.2,353.7 643.8,353.7"/>
<polygon fill="#990000" points="663.5,349.5 668.2,345.7 677.8,345.7 682.5,349.5 677.8,353.3 668.2,353.3"/>
<rect fill="#990000" x="742.2" y="347.8" width="29.8" height="3.4"/>
<polygon fill="#990000" points="749.0,349.5 751.5,347.2 756.5,347.2 759.0,349.5 756.5,351.8 751.5,351.8"/>
<polygon fill="#990000" points="763.3,349.3 767.5,344.8 776.0,344.8 780.3,349.3 776.0,353.8 767.5,353.8"/>
<polygon fill="#ee0000" points="129.0,358.2 139.0,361.5 149.0,361.5 159.0,360.8 169.0,361.5 179.0,363.2 189.0,367.0 200.2,369.0 209.0,365.8 216.5,359.5 227.8,353.2 234.0,355.8 244.0,360.8 254.0,365.0 264.0,365.0 274.0,360.8 284.0,359.5 294.0,358.2 300.2,357.0 304.0,362.0 309.0,365.8 319.0,365.0 329.0,362.0 336.5,358.2 344.0,355.0 354.0,357.0 364.0,360.0 374.0,361.5 379.0,361.5 381.0,359.5 386.0,357.0 393.5,351.5 406.0,352.5 416.0,355.8 426.0,358.2 433.5,356.5 441.0,362.0 448.5,358.2 453.5,353.2 463.5,352.0 476.0,354.5 486.0,358.2 496.0,364.5 506.0,370.8 511.0,371.5 521.0,368.2 531.0,366.5 541.0,367.0 551.0,369.0 561.0,368.2 571.0,366.5 581.0,363.2 593.5,365.0 606.0,368.2 618.5,370.0 631.0,369.0 633.0,369.5 643.0,370.8 653.0,370.8 663.0,369.5 673.0,370.0 683.0,369.0 693.0,366.5 703.0,363.2 713.0,364.0 723.0,367.0 733.0,369.5 743.0,370.8 758.0,370.8 773.0,370.0 783.0,365.8 793.0,366.5 808.0,365.8 823.0,365.0 833.0,364.0 840.5,364.5 853.0,365.0 863.0,364.0 873.0,363.2 883.0,362.5 887.0,365.8 897.0,365.0 907.0,363.2 917.0,362.0 927.0,360.8 933.0,359.5 935,400 127,400"/>
<polygon fill="#c30000" points="839.3,362 852.4,362 851.8,371 850.6,379.3 850,387.6 849.8,399 845.8,399 845.2,387.6 843.5,378 841.7,371"/>
<polygon fill="#ff1b00" points="129.0,386.5 139.0,387.5 149.0,386.5 159.0,385.8 169.0,385.8 179.0,387.5 189.0,389.5 199.0,390.8 209.0,388.2 216.5,380.8 225.2,374.5 231.5,375.8 239.0,382.0 249.0,387.0 259.0,388.2 269.0,385.8 279.0,381.5 289.0,380.8 299.0,382.0 309.0,387.0 319.0,385.8 329.0,382.0 339.0,378.2 349.0,376.5 354.0,380.0 364.0,382.0 374.0,383.2 379.0,383.2 381.0,382.0 391.0,379.5 401.0,375.8 406.0,374.5 416.0,379.5 426.0,380.8 433.5,378.2 441.0,383.2 448.5,379.5 453.5,375.0 463.5,375.0 476.0,378.2 486.0,382.0 496.0,385.8 506.0,389.5 511.0,390.8 521.0,387.5 531.0,384.5 541.0,385.8 553.5,388.2 566.0,385.8 576.0,383.2 586.0,382.0 596.0,383.2 606.0,385.8 618.5,389.5 631.0,387.0 633.0,387.5 643.0,389.0 653.0,389.0 663.0,387.0 673.0,386.5 683.0,384.5 693.0,383.2 705.5,382.0 718.0,385.8 733.0,388.2 743.0,389.0 758.0,390.0 768.0,389.5 778.0,387.0 785.5,382.0 795.5,383.2 808.0,385.0 823.0,384.5 833.0,384.0 837.5,386.5 839.0,392.0 840.8,400.8 852.0,400.8 852.5,390.8 853.8,383.2 856.0,382.0 863.0,382.0 873.0,380.8 883.0,383.2 887.0,383.2 897.0,384.0 907.0,383.2 917.0,382.0 927.0,380.0 933.0,378.2 935,400 127,400"/>
<polygon fill="#ff4900" points="221.0,399 224.0,395.0 227.0,395.0 230.0,399"/>
<polygon fill="#ff4900" points="345.5,399 347.8,396.0 350.2,396.0 352.5,399"/>
<polygon fill="#ff4900" points="403.5,399 406.8,395.5 410.2,395.5 413.5,399"/>
<polygon fill="#ff4900" points="453.0,399 455.7,396.5 458.3,396.5 461.0,399"/>
<polygon fill="#ff4900" points="909.5,399 911.2,396.5 912.8,396.5 914.5,399"/>
</g>
<g fill="#000" shape-rendering="crispEdges">
<rect x="90" y="104" width="844" height="1"/>
<rect x="81" y="398" width="863" height="1"/>
<rect x="90" y="104" width="1" height="295"/>
<rect x="933" y="104" width="1" height="295"/>
<rect x="90" y="100" width="1" height="4"/>
<rect x="90" y="399" width="1" height="6"/>
<rect x="95" y="100" width="1" height="4"/>
<rect x="95" y="399" width="1" height="6"/>
<rect x="100" y="100" width="1" height="4"/>
<rect x="100" y="399" width="1" height="6"/>
<rect x="105" y="95" width="1" height="9"/>
<rect x="105" y="399" width="1" height="9"/>
<rect x="110" y="100" width="1" height="4"/>
<rect x="110" y="399" width="1" height="6"/>
<rect x="115" y="100" width="1" height="4"/>
<rect x="115" y="399" width="1" height="6"/>
<rect x="120" y="100" width="1" height="4"/>
<rect x="120" y="399" width="1" height="6"/>
<rect x="125" y="100" width="1" height="4"/>
<rect x="125" y="399" width="1" height="6"/>
<rect x="130" y="100" width="1" height="4"/>
<rect x="130" y="399" width="1" height="6"/>
<rect x="135" y="100" width="1" height="4"/>
<rect x="135" y="399" width="1" height="6"/>
<rect x="140" y="100" width="1" height="4"/>
<rect x="140" y="399" width="1" height="6"/>
<rect x="145" y="100" width="1" height="4"/>
<rect x="145" y="399" width="1" height="6"/>
<rect x="150" y="100" width="1" height="4"/>
<rect x="150" y="399" width="1" height="6"/>
<rect x="155" y="100" width="1" height="4"/>
<rect x="155" y="399" width="1" height="6"/>
<rect x="160" y="100" width="1" height="4"/>
<rect x="160" y="399" width="1" height="6"/>
<rect x="165" y="100" width="1" height="4"/>
<rect x="165" y="399" width="1" height="6"/>
<rect x="169" y="100" width="1" height="4"/>
<rect x="169" y="399" width="1" height="6"/>
<rect x="174" y="100" width="1" height="4"/>
<rect x="174" y="399" width="1" height="6"/>
<rect x="179" y="100" width="1" height="4"/>
<rect x="179" y="399" width="1" height="6"/>
<rect x="184" y="100" width="1" height="4"/>
<rect x="184" y="399" width="1" height="6"/>
<rect x="189" y="100" width="1" height="4"/>
<rect x="189" y="399" width="1" height="6"/>
<rect x="194" y="100" width="1" height="4"/>
<rect x="194" y="399" width="1" height="6"/>
<rect x="199" y="100" width="1" height="4"/>
<rect x="199" y="399" width="1" height="6"/>
<rect x="204" y="100" width="1" height="4"/>
<rect x="204" y="399" width="1" height="6"/>
<rect x="209" y="100" width="1" height="4"/>
<rect x="209" y="399" width="1" height="6"/>
<rect x="214" y="100" width="1" height="4"/>
<rect x="214" y="399" width="1" height="6"/>
<rect x="219" y="100" width="1" height="4"/>
<rect x="219" y="399" width="1" height="6"/>
<rect x="224" y="95" width="1" height="9"/>
<rect x="224" y="399" width="1" height="9"/>
<rect x="229" y="100" width="1" height="4"/>
<rect x="229" y="399" width="1" height="6"/>
<rect x="234" y="100" width="1" height="4"/>
<rect x="234" y="399" width="1" height="6"/>
<rect x="239" y="100" width="1" height="4"/>
<rect x="239" y="399" width="1" height="6"/>
<rect x="244" y="100" width="1" height="4"/>
<rect x="244" y="399" width="1" height="6"/>
<rect x="249" y="100" width="1" height="4"/>
<rect x="249" y="399" width="1" height="6"/>
<rect x="254" y="100" width="1" height="4"/>
<rect x="254" y="399" width="1" height="6"/>
<rect x="259" y="100" width="1" height="4"/>
<rect x="259" y="399" width="1" height="6"/>
<rect x="264" y="100" width="1" height="4"/>
<rect x="264" y="399" width="1" height="6"/>
<rect x="269" y="100" width="1" height="4"/>
<rect x="269" y="399" width="1" height="6"/>
<rect x="274" y="100" width="1" height="4"/>
<rect x="274" y="399" width="1" height="6"/>
<rect x="279" y="100" width="1" height="4"/>
<rect x="279" y="399" width="1" height="6"/>
<rect x="284" y="100" width="1" height="4"/>
<rect x="284" y="399" width="1" height="6"/>
<rect x="289" y="100" width="1" height="4"/>
<rect x="289" y="399" width="1" height="6"/>
<rect x="294" y="100" width="1" height="4"/>
<rect x="294" y="399" width="1" height="6"/>
<rect x="299" y="100" width="1" height="4"/>
<rect x="299" y="399" width="1" height="6"/>
<rect x="304" y="100" width="1" height="4"/>
<rect x="304" y="399" width="1" height="6"/>
<rect x="309" y="100" width="1" height="4"/>
<rect x="309" y="399" width="1" height="6"/>
<rect x="314" y="100" width="1" height="4"/>
<rect x="314" y="399" width="1" height="6"/>
<rect x="319" y="100" width="1" height="4"/>
<rect x="319" y="399" width="1" height="6"/>
<rect x="324" y="100" width="1" height="4"/>
<rect x="324" y="399" width="1" height="6"/>
<rect x="329" y="100" width="1" height="4"/>
<rect x="329" y="399" width="1" height="6"/>
<rect x="333" y="100" width="1" height="4"/>
<rect x="333" y="399" width="1" height="6"/>
<rect x="338" y="100" width="1" height="4"/>
<rect x="338" y="399" width="1" height="6"/>
<rect x="343" y="95" width="1" height="9"/>
<rect x="343" y="399" width="1" height="9"/>
<rect x="348" y="100" width="1" height="4"/>
<rect x="348" y="399" width="1" height="6"/>
<rect x="353" y="100" width="1" height="4"/>
<rect x="353" y="399" width="1" height="6"/>
<rect x="358" y="100" width="1" height="4"/>
<rect x="358" y="399" width="1" height="6"/>
<rect x="363" y="100" width="1" height="4"/>
<rect x="363" y="399" width="1" height="6"/>
<rect x="368" y="100" width="1" height="4"/>
<rect x="368" y="399" width="1" height="6"/>
<rect x="373" y="100" width="1" height="4"/>
<rect x="373" y="399" width="1" height="6"/>
<rect x="378" y="100" width="1" height="4"/>
<rect x="378" y="399" width="1" height="6"/>
<rect x="383" y="100" width="1" height="4"/>
<rect x="383" y="399" width="1" height="6"/>
<rect x="388" y="100" width="1" height="4"/>
<rect x="388" y="399" width="1" height="6"/>
<rect x="393" y="100" width="1" height="4"/>
<rect x="393" y="399" width="1" height="6"/>
<rect x="398" y="100" width="1" height="4"/>
<rect x="398" y="399" width="1" height="6"/>
<rect x="403" y="100" width="1" height="4"/>
<rect x="403" y="399" width="1" height="6"/>
<rect x="408" y="100" width="1" height="4"/>
<rect x="408" y="399" width="1" height="6"/>
<rect x="413" y="100" width="1" height="4"/>
<rect x="413" y="399" width="1" height="6"/>
<rect x="418" y="100" width="1" height="4"/>
<rect x="418" y="399" width="1" height="6"/>
<rect x="423" y="100" width="1" height="4"/>
<rect x="423" y="399" width="1" height="6"/>
<rect x="428" y="100" width="1" height="4"/>
<rect x="428" y="399" width="1" height="6"/>
<rect x="433" y="100" width="1" height="4"/>
<rect x="433" y="399" width="1" height="6"/>
<rect x="438" y="100" width="1" height="4"/>
<rect x="438" y="399" width="1" height="6"/>
<rect x="443" y="100" width="1" height="4"/>
<rect x="443" y="399" width="1" height="6"/>
<rect x="448" y="100" width="1" height="4"/>
<rect x="448" y="399" width="1" height="6"/>
<rect x="453" y="100" width="1" height="4"/>
<rect x="453" y="399" width="1" height="6"/>
<rect x="458" y="100" width="1" height="4"/>
<rect x="458" y="399" width="1" height="6"/>
<rect x="463" y="95" width="1" height="9"/>
<rect x="463" y="399" width="1" height="9"/>
<rect x="468" y="100" width="1" height="4"/>
<rect x="468" y="399" width="1" height="6"/>
<rect x="473" y="100" width="1" height="4"/>
<rect x="473" y="399" width="1" height="6"/>
<rect x="478" y="100" width="1" height="4"/>
<rect x="478" y="399" width="1" height="6"/>
<rect x="483" y="100" width="1" height="4"/>
<rect x="483" y="399" width="1" height="6"/>
<rect x="488" y="100" width="1" height="4"/>
<rect x="488" y="399" width="1" height="6"/>
<rect x="492" y="100" width="1" height="4"/>
<rect x="492" y="399" width="1" height="6"/>
<rect x="497" y="100" width="1" height="4"/>
<rect x="497" y="399" width="1" height="6"/>
<rect x="502" y="100" width="1" height="4"/>
<rect x="502" y="399" width="1" height="6"/>
<rect x="507" y="100" width="1" height="4"/>
<rect x="507" y="399" width="1" height="6"/>
<rect x="512" y="100" width="1" height="4"/>
<rect x="512" y="399" width="1" height="6"/>
<rect x="517" y="100" width="1" height="4"/>
<rect x="517" y="399" width="1" height="6"/>
<rect x="522" y="100" width="1" height="4"/>
<rect x="522" y="399" width="1" height="6"/>
<rect x="527" y="100" width="1" height="4"/>
<rect x="527" y="399" width="1" height="6"/>
<rect x="532" y="100" width="1" height="4"/>
<rect x="532" y="399" width="1" height="6"/>
<rect x="537" y="100" width="1" height="4"/>
<rect x="537" y="399" width="1" height="6"/>
<rect x="542" y="100" width="1" height="4"/>
<rect x="542" y="399" width="1" height="6"/>
<rect x="547" y="100" width="1" height="4"/>
<rect x="547" y="399" width="1" height="6"/>
<rect x="552" y="100" width="1" height="4"/>
<rect x="552" y="399" width="1" height="6"/>
<rect x="557" y="100" width="1" height="4"/>
<rect x="557" y="399" width="1" height="6"/>
<rect x="562" y="100" width="1" height="4"/>
<rect x="562" y="399" width="1" height="6"/>
<rect x="567" y="100" width="1" height="4"/>
<rect x="567" y="399" width="1" height="6"/>
<rect x="572" y="100" width="1" height="4"/>
<rect x="572" y="399" width="1" height="6"/>
<rect x="577" y="100" width="1" height="4"/>
<rect x="577" y="399" width="1" height="6"/>
<rect x="582" y="95" width="1" height="9"/>
<rect x="582" y="399" width="1" height="9"/>
<rect x="587" y="100" width="1" height="4"/>
<rect x="587" y="399" width="1" height="6"/>
<rect x="592" y="100" width="1" height="4"/>
<rect x="592" y="399" width="1" height="6"/>
<rect x="597" y="100" width="1" height="4"/>
<rect x="597" y="399" width="1" height="6"/>
<rect x="602" y="100" width="1" height="4"/>
<rect x="602" y="399" width="1" height="6"/>
<rect x="607" y="100" width="1" height="4"/>
<rect x="607" y="399" width="1" height="6"/>
<rect x="612" y="100" width="1" height="4"/>
<rect x="612" y="399" width="1" height="6"/>
<rect x="617" y="100" width="1" height="4"/>
<rect x="617" y="399" width="1" height="6"/>
<rect x="622" y="100" width="1" height="4"/>
<rect x="622" y="399" width="1" height="6"/>
<rect x="627" y="100" width="1" height="4"/>
<rect x="627" y="399" width="1" height="6"/>
<rect x="632" y="100" width="1" height="4"/>
<rect x="632" y="399" width="1" height="6"/>
<rect x="637" y="100" width="1" height="4"/>
<rect x="637" y="399" width="1" height="6"/>
<rect x="642" y="100" width="1" height="4"/>
<rect x="642" y="399" width="1" height="6"/>
<rect x="647" y="100" width="1" height="4"/>
<rect x="647" y="399" width="1" height="6"/>
<rect x="651" y="100" width="1" height="4"/>
<rect x="651" y="399" width="1" height="6"/>
<rect x="656" y="100" width="1" height="4"/>
<rect x="656" y="399" width="1" height="6"/>
<rect x="661" y="100" width="1" height="4"/>
<rect x="661" y="399" width="1" height="6"/>
<rect x="666" y="100" width="1" height="4"/>
<rect x="666" y="399" width="1" height="6"/>
<rect x="671" y="100" width="1" height="4"/>
<rect x="671" y="399" width="1" height="6"/>
<rect x="676" y="100" width="1" height="4"/>
<rect x="676" y="399" width="1" height="6"/>
<rect x="681" y="100" width="1" height="4"/>
<rect x="681" y="399" width="1" height="6"/>
<rect x="686" y="100" width="1" height="4"/>
<rect x="686" y="399" width="1" height="6"/>
<rect x="691" y="100" width="1" height="4"/>
<rect x="691" y="399" width="1" height="6"/>
<rect x="696" y="100" width="1" height="4"/>
<rect x="696" y="399" width="1" height="6"/>
<rect x="701" y="95" width="1" height="9"/>
<rect x="701" y="399" width="1" height="9"/>
<rect x="706" y="100" width="1" height="4"/>
<rect x="706" y="399" width="1" height="6"/>
<rect x="711" y="100" width="1" height="4"/>
<rect x="711" y="399" width="1" height="6"/>
<rect x="716" y="100" width="1" height="4"/>
<rect x="716" y="399" width="1" height="6"/>
<rect x="721" y="100" width="1" height="4"/>
<rect x="721" y="399" width="1" height="6"/>
<rect x="726" y="100" width="1" height="4"/>
<rect x="726" y="399" width="1" height="6"/>
<rect x="731" y="100" width="1" height="4"/>
<rect x="731" y="399" width="1" height="6"/>
<rect x="736" y="100" width="1" height="4"/>
<rect x="736" y="399" width="1" height="6"/>
<rect x="741" y="100" width="1" height="4"/>
<rect x="741" y="399" width="1" height="6"/>
<rect x="746" y="100" width="1" height="4"/>
<rect x="746" y="399" width="1" height="6"/>
<rect x="751" y="100" width="1" height="4"/>
<rect x="751" y="399" width="1" height="6"/>
<rect x="756" y="100" width="1" height="4"/>
<rect x="756" y="399" width="1" height="6"/>
<rect x="761" y="100" width="1" height="4"/>
<rect x="761" y="399" width="1" height="6"/>
<rect x="766" y="100" width="1" height="4"/>
<rect x="766" y="399" width="1" height="6"/>
<rect x="771" y="100" width="1" height="4"/>
<rect x="771" y="399" width="1" height="6"/>
<rect x="776" y="100" width="1" height="4"/>
<rect x="776" y="399" width="1" height="6"/>
<rect x="781" y="100" width="1" height="4"/>
<rect x="781" y="399" width="1" height="6"/>
<rect x="786" y="100" width="1" height="4"/>
<rect x="786" y="399" width="1" height="6"/>
<rect x="791" y="100" width="1" height="4"/>
<rect x="791" y="399" width="1" height="6"/>
<rect x="796" y="100" width="1" height="4"/>
<rect x="796" y="399" width="1" height="6"/>
<rect x="801" y="100" width="1" height="4"/>
<rect x="801" y="399" width="1" height="6"/>
<rect x="806" y="100" width="1" height="4"/>
<rect x="806" y="399" width="1" height="6"/>
<rect x="810" y="100" width="1" height="4"/>
<rect x="810" y="399" width="1" height="6"/>
<rect x="815" y="100" width="1" height="4"/>
<rect x="815" y="399" width="1" height="6"/>
<rect x="820" y="95" width="1" height="9"/>
<rect x="820" y="399" width="1" height="9"/>
<rect x="825" y="100" width="1" height="4"/>
<rect x="825" y="399" width="1" height="6"/>
<rect x="830" y="100" width="1" height="4"/>
<rect x="830" y="399" width="1" height="6"/>
<rect x="835" y="100" width="1" height="4"/>
<rect x="835" y="399" width="1" height="6"/>
<rect x="840" y="100" width="1" height="4"/>
<rect x="840" y="399" width="1" height="6"/>
<rect x="845" y="100" width="1" height="4"/>
<rect x="845" y="399" width="1" height="6"/>
<rect x="850" y="100" width="1" height="4"/>
<rect x="850" y="399" width="1" height="6"/>
<rect x="855" y="100" width="1" height="4"/>
<rect x="855" y="399" width="1" height="6"/>
<rect x="860" y="100" width="1" height="4"/>
<rect x="860" y="399" width="1" height="6"/>
<rect x="865" y="100" width="1" height="4"/>
<rect x="865" y="399" width="1" height="6"/>
<rect x="870" y="100" width="1" height="4"/>
<rect x="870" y="399" width="1" height="6"/>
<rect x="875" y="100" width="1" height="4"/>
<rect x="875" y="399" width="1" height="6"/>
<rect x="880" y="100" width="1" height="4"/>
<rect x="880" y="399" width="1" height="6"/>
<rect x="885" y="100" width="1" height="4"/>
<rect x="885" y="399" width="1" height="6"/>
<rect x="890" y="100" width="1" height="4"/>
<rect x="890" y="399" width="1" height="6"/>
<rect x="895" y="100" width="1" height="4"/>
<rect x="895" y="399" width="1" height="6"/>
<rect x="900" y="100" width="1" height="4"/>
<rect x="900" y="399" width="1" height="6"/>
<rect x="905" y="100" width="1" height="4"/>
<rect x="905" y="399" width="1" height="6"/>
<rect x="910" y="100" width="1" height="4"/>
<rect x="910" y="399" width="1" height="6"/>
<rect x="915" y="100" width="1" height="4"/>
<rect x="915" y="399" width="1" height="6"/>
<rect x="920" y="100" width="1" height="4"/>
<rect x="920" y="399" width="1" height="6"/>
<rect x="925" y="100" width="1" height="4"/>
<rect x="925" y="399" width="1" height="6"/>
<rect x="930" y="100" width="1" height="4"/>
<rect x="930" y="399" width="1" height="6"/>
<rect x="81" y="123" width="9" height="1"/>
<rect x="934" y="123" width="10" height="1"/>
<rect x="81" y="143" width="9" height="1"/>
<rect x="934" y="143" width="10" height="1"/>
<rect x="81" y="162" width="9" height="1"/>
<rect x="934" y="162" width="10" height="1"/>
<rect x="81" y="182" width="9" height="1"/>
<rect x="934" y="182" width="10" height="1"/>
<rect x="81" y="202" width="9" height="1"/>
<rect x="934" y="202" width="10" height="1"/>
<rect x="81" y="221" width="9" height="1"/>
<rect x="934" y="221" width="10" height="1"/>
<rect x="81" y="241" width="9" height="1"/>
<rect x="934" y="241" width="10" height="1"/>
<rect x="81" y="261" width="9" height="1"/>
<rect x="934" y="261" width="10" height="1"/>
<rect x="81" y="280" width="9" height="1"/>
<rect x="934" y="280" width="10" height="1"/>
<rect x="81" y="300" width="9" height="1"/>
<rect x="934" y="300" width="10" height="1"/>
<rect x="81" y="320" width="9" height="1"/>
<rect x="934" y="320" width="10" height="1"/>
<rect x="81" y="339" width="9" height="1"/>
<rect x="934" y="339" width="10" height="1"/>
<rect x="81" y="359" width="9" height="1"/>
<rect x="934" y="359" width="10" height="1"/>
<rect x="81" y="378" width="9" height="1"/>
<rect x="934" y="378" width="10" height="1"/>
</g>
<g shape-rendering="crispEdges">
<rect x="949" y="386.24" width="21" height="12.26" fill="#cc00ff"/>
<rect x="949" y="374.48" width="21" height="12.26" fill="#9715ff"/>
<rect x="949" y="362.72" width="21" height="12.26" fill="#622aff"/>
<rect x="949" y="350.96" width="21" height="12.26" fill="#443eec"/>
<rect x="949" y="339.20" width="21" height="12.26" fill="#3750cc"/>
<rect x="949" y="327.44" width="21" height="12.26" fill="#2962ac"/>
<rect x="949" y="315.68" width="21" height="12.26" fill="#1b758c"/>
<rect x="949" y="303.92" width="21" height="12.26" fill="#0e876c"/>
<rect x="949" y="292.16" width="21" height="12.26" fill="#00994c"/>
<rect x="949" y="280.40" width="21" height="12.26" fill="#20a643"/>
<rect x="949" y="268.64" width="21" height="12.26" fill="#40b339"/>
<rect x="949" y="256.88" width="21" height="12.26" fill="#60bf30"/>
<rect x="949" y="245.12" width="21" height="12.26" fill="#80cc26"/>
<rect x="949" y="233.36" width="21" height="12.26" fill="#a0d91d"/>
<rect x="949" y="221.60" width="21" height="12.26" fill="#c0e613"/>
<rect x="949" y="209.84" width="21" height="12.26" fill="#e0f209"/>
<rect x="949" y="198.08" width="21" height="12.26" fill="#fffe00"/>
<rect x="949" y="186.32" width="21" height="12.26" fill="#ffd100"/>
<rect x="949" y="174.56" width="21" height="12.26" fill="#ffa300"/>
<rect x="949" y="162.80" width="21" height="12.26" fill="#ff7600"/>
<rect x="949" y="151.04" width="21" height="12.26" fill="#ff4900"/>
<rect x="949" y="139.28" width="21" height="12.26" fill="#ff1b00"/>
<rect x="949" y="127.52" width="21" height="12.26" fill="#ee0000"/>
<rect x="949" y="115.76" width="21" height="12.26" fill="#c30000"/>
<rect x="949" y="104.00" width="21" height="12.26" fill="#990000"/>
<g fill="#000">
<rect x="948" y="104" width="23" height="1"/>
<rect x="948" y="116" width="23" height="1"/>
<rect x="948" y="128" width="23" height="1"/>
<rect x="948" y="139" width="23" height="1"/>
<rect x="948" y="151" width="23" height="1"/>
<rect x="948" y="163" width="23" height="1"/>
<rect x="948" y="175" width="23" height="1"/>
<rect x="948" y="186" width="23" height="1"/>
<rect x="948" y="198" width="23" height="1"/>
<rect x="948" y="210" width="23" height="1"/>
<rect x="948" y="222" width="23" height="1"/>
<rect x="948" y="233" width="23" height="1"/>
<rect x="948" y="245" width="23" height="1"/>
<rect x="948" y="257" width="23" height="1"/>
<rect x="948" y="269" width="23" height="1"/>
<rect x="948" y="281" width="23" height="1"/>
<rect x="948" y="292" width="23" height="1"/>
<rect x="948" y="304" width="23" height="1"/>
<rect x="948" y="316" width="23" height="1"/>
<rect x="948" y="328" width="23" height="1"/>
<rect x="948" y="339" width="23" height="1"/>
<rect x="948" y="351" width="23" height="1"/>
<rect x="948" y="363" width="23" height="1"/>
<rect x="948" y="375" width="23" height="1"/>
<rect x="948" y="386" width="23" height="1"/>
<rect x="948" y="398" width="23" height="1"/>
<rect x="948" y="104" width="1" height="295"/><rect x="970" y="104" width="1" height="295"/></g></g>
<g opacity="0.999"><text x="62.2" y="126.9" font-size="11" textLength="13.2" lengthAdjust="spacing">20</text>
<text x="62.2" y="165.9" font-size="11" textLength="13.2" lengthAdjust="spacing">60</text>
<text x="55.8" y="205.9" font-size="11" textLength="19.6" lengthAdjust="spacing">100</text>
<text x="55.8" y="244.9" font-size="11" textLength="19.6" lengthAdjust="spacing">140</text>
<text x="55.8" y="283.9" font-size="11" textLength="19.6" lengthAdjust="spacing">180</text>
<text x="55.8" y="323.9" font-size="11" textLength="19.6" lengthAdjust="spacing">220</text>
<text x="55.8" y="362.9" font-size="11" textLength="19.6" lengthAdjust="spacing">260</text>
<text x="55.8" y="401.9" font-size="11" textLength="19.6" lengthAdjust="spacing">300</text>
<text transform="translate(44.4,287.9) rotate(-90)" font-size="13.2"><tspan x="0" textLength="39.7" lengthAdjust="spacingAndGlyphs">DEPTH</tspan> <tspan x="49.9" textLength="22.5" lengthAdjust="spacingAndGlyphs">(m)</tspan></text>
<text x="975" y="402.4" font-size="12" textLength="31" lengthAdjust="spacing">33.05</text>
<text x="975" y="378.9" font-size="12" textLength="31" lengthAdjust="spacing">33.15</text>
<text x="975" y="355.5" font-size="12" textLength="31" lengthAdjust="spacing">33.25</text>
<text x="975" y="332.0" font-size="12" textLength="31" lengthAdjust="spacing">33.35</text>
<text x="975" y="308.5" font-size="12" textLength="31" lengthAdjust="spacing">33.45</text>
<text x="975" y="285.0" font-size="12" textLength="31" lengthAdjust="spacing">33.55</text>
<text x="975" y="261.6" font-size="12" textLength="31" lengthAdjust="spacing">33.65</text>
<text x="975" y="238.1" font-size="12" textLength="31" lengthAdjust="spacing">33.75</text>
<text x="975" y="214.6" font-size="12" textLength="31" lengthAdjust="spacing">33.85</text>
<text x="975" y="191.2" font-size="12" textLength="31" lengthAdjust="spacing">33.95</text>
<text x="975" y="167.7" font-size="12" textLength="31" lengthAdjust="spacing">34.05</text>
<text x="975" y="144.2" font-size="12" textLength="31" lengthAdjust="spacing">34.15</text>
<text x="975" y="120.8" font-size="12" textLength="31" lengthAdjust="spacing">34.25</text>
<text y="34.8" font-size="12.2"><tspan x="91.6" textLength="59.8" lengthAdjust="spacingAndGlyphs">LONGITUDE</tspan> <tspan x="158.4" textLength="3.0" lengthAdjust="spacingAndGlyphs">:</tspan> <tspan x="168.4" textLength="70.5" lengthAdjust="spacingAndGlyphs">122W(-122)</tspan> </text>
<text y="46.6" font-size="10.8"><tspan x="91.6" textLength="48.2" lengthAdjust="spacingAndGlyphs">LATITUDE</tspan> <tspan x="146.2" textLength="2.6" lengthAdjust="spacingAndGlyphs">:</tspan> <tspan x="156.8" textLength="32.5" lengthAdjust="spacingAndGlyphs">36.8N</tspan> </text>
<text y="60.2" font-size="10.8"><tspan x="90.7" textLength="27.2" lengthAdjust="spacingAndGlyphs">YEAR</tspan> <tspan x="124.8" textLength="2.6" lengthAdjust="spacingAndGlyphs">:</tspan> <tspan x="133.6" textLength="28.9" lengthAdjust="spacingAndGlyphs">2013</tspan> </text>
<text y="80.9" font-size="12.8"><tspan x="225.4" textLength="41.6" lengthAdjust="spacingAndGlyphs">Hourly</tspan> <tspan x="273.5" textLength="50.5" lengthAdjust="spacingAndGlyphs">Gridded</tspan> <tspan x="331.5" textLength="38.5" lengthAdjust="spacingAndGlyphs">MBARI</tspan> <tspan x="377.6" textLength="51.4" lengthAdjust="spacingAndGlyphs">Mooring</tspan> <tspan x="436.5" textLength="18.5" lengthAdjust="spacingAndGlyphs">M1</tspan> <tspan x="462.3" textLength="23.2" lengthAdjust="spacingAndGlyphs">Sea</tspan> <tspan x="493.0" textLength="38.7" lengthAdjust="spacingAndGlyphs">Water</tspan> <tspan x="538.2" textLength="83.1" lengthAdjust="spacingAndGlyphs">Temperature</tspan> <tspan x="628.8" textLength="23.6" lengthAdjust="spacingAndGlyphs">and</tspan> <tspan x="659.2" textLength="47.1" lengthAdjust="spacingAndGlyphs">Salinity</tspan> <tspan x="714.5" textLength="84.4" lengthAdjust="spacingAndGlyphs">Observations</tspan> </text>
<text x="105.1" y="418.1" font-size="11" text-anchor="middle">00</text>
<text x="134.9" y="418.1" font-size="11" text-anchor="middle">06</text>
<text x="164.8" y="418.1" font-size="11" text-anchor="middle">12</text>
<text x="194.6" y="418.1" font-size="11" text-anchor="middle">18</text>
<text x="132.2" y="438.9" font-size="16.5" textLength="27.5" lengthAdjust="spacingAndGlyphs">JAN</text>
<text x="178.7" y="438.9" font-size="16.5">4</text>
<text x="224.4" y="418.1" font-size="11" text-anchor="middle">00</text>
<text x="254.2" y="418.1" font-size="11" text-anchor="middle">06</text>
<text x="284.1" y="418.1" font-size="11" text-anchor="middle">12</text>
<text x="313.9" y="418.1" font-size="11" text-anchor="middle">18</text>
<text x="251.5" y="438.9" font-size="16.5" textLength="27.5" lengthAdjust="spacingAndGlyphs">JAN</text>
<text x="298.0" y="438.9" font-size="16.5">5</text>
<text x="343.7" y="418.1" font-size="11" text-anchor="middle">00</text>
<text x="373.5" y="418.1" font-size="11" text-anchor="middle">06</text>
<text x="403.4" y="418.1" font-size="11" text-anchor="middle">12</text>
<text x="433.2" y="418.1" font-size="11" text-anchor="middle">18</text>
<text x="370.8" y="438.9" font-size="16.5" textLength="27.5" lengthAdjust="spacingAndGlyphs">JAN</text>
<text x="417.3" y="438.9" font-size="16.5">6</text>
<text x="463.0" y="418.1" font-size="11" text-anchor="middle">00</text>
<text x="492.8" y="418.1" font-size="11" text-anchor="middle">06</text>
<text x="522.7" y="418.1" font-size="11" text-anchor="middle">12</text>
<text x="552.5" y="418.1" font-size="11" text-anchor="middle">18</text>
<text x="490.1" y="438.9" font-size="16.5" textLength="27.5" lengthAdjust="spacingAndGlyphs">JAN</text>
<text x="536.6" y="438.9" font-size="16.5">7</text>
<text x="582.3" y="418.1" font-size="11" text-anchor="middle">00</text>
<text x="612.1" y="418.1" font-size="11" text-anchor="middle">06</text>
<text x="642.0" y="418.1" font-size="11" text-anchor="middle">12</text>
<text x="671.8" y="418.1" font-size="11" text-anchor="middle">18</text>
<text x="609.4" y="438.9" font-size="16.5" textLength="27.5" lengthAdjust="spacingAndGlyphs">JAN</text>
<text x="655.9" y="438.9" font-size="16.5">8</text>
<text x="701.6" y="418.1" font-size="11" text-anchor="middle">00</text>
<text x="731.4" y="418.1" font-size="11" text-anchor="middle">06</text>
<text x="761.3" y="418.1" font-size="11" text-anchor="middle">12</text>
<text x="791.1" y="418.1" font-size="11" text-anchor="middle">18</text>
<text x="728.7" y="438.9" font-size="16.5" textLength="27.5" lengthAdjust="spacingAndGlyphs">JAN</text>
<text x="775.2" y="438.9" font-size="16.5">9</text>
<text x="820.9" y="418.1" font-size="11" text-anchor="middle">00</text>
<text x="850.7" y="418.1" font-size="11" text-anchor="middle">06</text>
<text x="880.6" y="418.1" font-size="11" text-anchor="middle">12</text>
<text x="910.4" y="418.1" font-size="11" text-anchor="middle">18</text>
<text x="843.4" y="438.9" font-size="16.5" textLength="27.5" lengthAdjust="spacingAndGlyphs">JAN</text>
<text x="884.2" y="438.9" font-size="16.5" textLength="17.5" lengthAdjust="spacing">10</text>
<text class="s" y="476" font-size="24"><tspan x="400.4" textLength="40.4" lengthAdjust="spacingAndGlyphs">Sea</tspan> <tspan x="453.2" textLength="66.8" lengthAdjust="spacingAndGlyphs">Water</tspan> <tspan x="533.2" textLength="90.9" lengthAdjust="spacingAndGlyphs">Salinity</tspan> </text></g>
</svg></body></html>
